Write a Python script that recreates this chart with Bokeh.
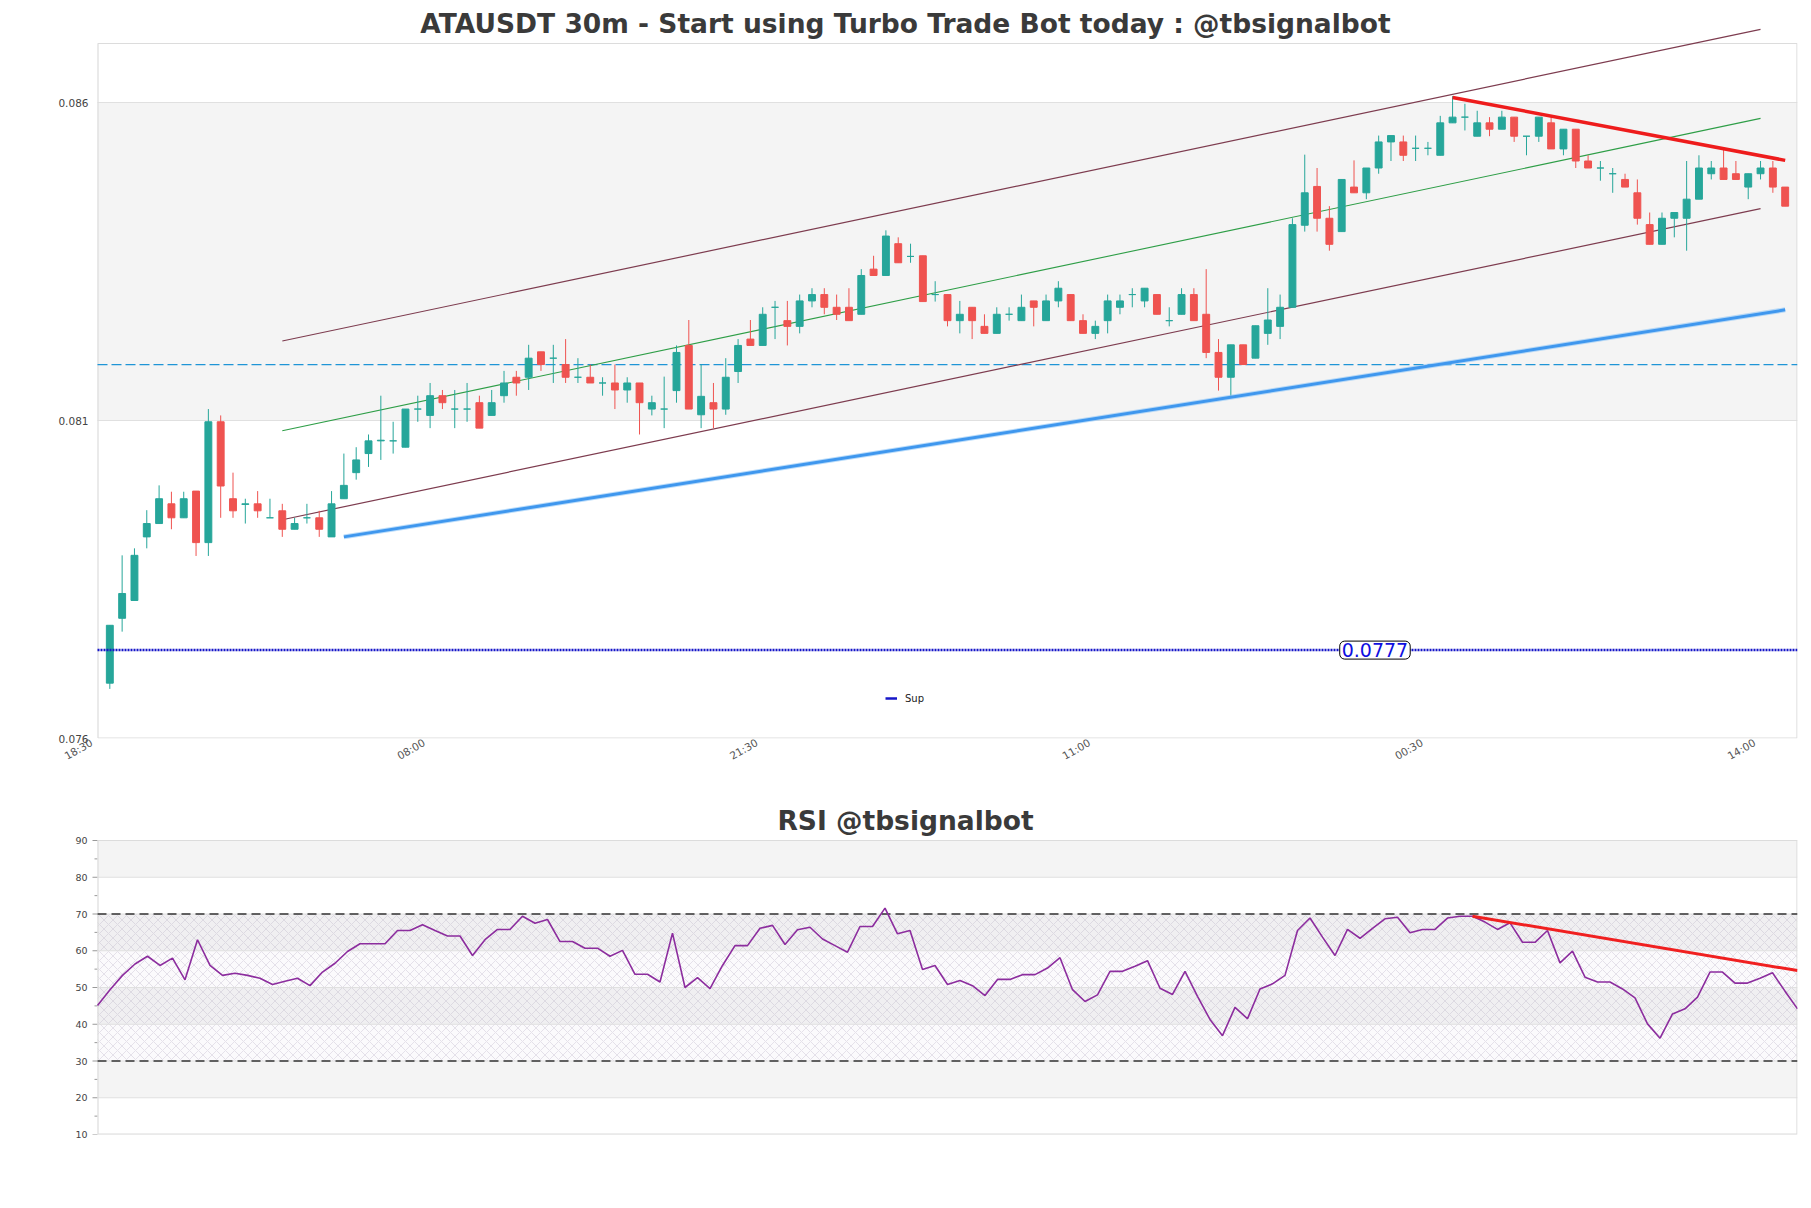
import math
from bokeh.plotting import figure
from bokeh.models import (Range1d, FixedTicker, Label, Legend, LegendItem, LinearAxis,
                          ColumnDataSource, NumeralTickFormatter)
from bokeh.layouts import column
from bokeh.embed import file_html
from bokeh.resources import INLINE

# ---------------- data ----------------
TITLE = "ATAUSDT 30m - Start using Turbo Trade Bot today : @tbsignalbot"
RSI_TITLE = "RSI @tbsignalbot"

X_TICK_POS = [0, 27, 54, 81, 108, 135]
X_TICK_LABELS = ["18:30", "08:00", "21:30", "11:00", "00:30", "14:00"]
Y_TICKS = [0.076, 0.081, 0.086]
RSI_TICKS = [10, 20, 30, 40, 50, 60, 70, 80, 90]
RSI_MINOR = [15, 25, 35, 45, 55, 65, 75, 85]

OPEN = [0.07687, 0.07789, 0.07817, 0.07917, 0.07938, 0.07969, 0.07947, 0.07989, 0.07908, 0.08098,
        0.07977, 0.07968, 0.07969, 0.07947, 0.07958, 0.07929, 0.07947, 0.07947, 0.07917, 0.07977,
        0.08018, 0.08048, 0.08068, 0.08068, 0.08058, 0.08118, 0.08108, 0.08139, 0.08118, 0.08118,
        0.08128, 0.08108, 0.08139, 0.08168, 0.08168, 0.08208, 0.08198, 0.08188, 0.08168, 0.08168,
        0.08159, 0.08159, 0.08148, 0.08159, 0.08118, 0.08118, 0.08147, 0.08218, 0.08109, 0.08128,
        0.08118, 0.08177, 0.08228, 0.08218, 0.08278, 0.08257, 0.08248, 0.08288, 0.08298, 0.08278,
        0.08278, 0.08267, 0.08338, 0.08328, 0.08378, 0.08358, 0.08359, 0.08298, 0.08298, 0.08257,
        0.08278, 0.08248, 0.08237, 0.08267, 0.08257, 0.08288, 0.08257, 0.08288, 0.08298, 0.08257,
        0.08237, 0.08257, 0.08278, 0.08298, 0.08288, 0.08298, 0.08257, 0.08267, 0.08298, 0.08267,
        0.08207, 0.08168, 0.08219, 0.08198, 0.08237, 0.08248, 0.08278, 0.08407, 0.08468, 0.08418,
        0.08397, 0.08467, 0.08458, 0.08497, 0.08538, 0.08538, 0.08528, 0.08528, 0.08517, 0.08568,
        0.08577, 0.08547, 0.08568, 0.08558, 0.08577, 0.08547, 0.08547, 0.08568, 0.08527, 0.08558,
        0.08508, 0.08497, 0.08488, 0.08479, 0.08458, 0.08408, 0.08377, 0.08418, 0.08418, 0.08448,
        0.08488, 0.08497, 0.08488, 0.08467, 0.08488, 0.08497, 0.08467]
HIGH = [0.07778, 0.07888, 0.07899, 0.07959, 0.07998, 0.07988, 0.07988, 0.07989, 0.08118, 0.08108,
        0.08018, 0.07977, 0.07989, 0.07977, 0.07969, 0.07947, 0.07969, 0.07958, 0.07989, 0.08048,
        0.08058, 0.08078, 0.08139, 0.08098, 0.08118, 0.08139, 0.08159, 0.08148, 0.08148, 0.08159,
        0.08139, 0.08148, 0.08178, 0.08178, 0.08219, 0.08208, 0.08219, 0.08228, 0.08198, 0.08188,
        0.08168, 0.08188, 0.08168, 0.08159, 0.08139, 0.08169, 0.08218, 0.08258, 0.08188, 0.08159,
        0.08198, 0.08228, 0.08258, 0.08278, 0.08288, 0.08288, 0.08298, 0.08308, 0.08308, 0.08298,
        0.08308, 0.08338, 0.08359, 0.08399, 0.08388, 0.08378, 0.08359, 0.08319, 0.08298, 0.08288,
        0.08278, 0.08267, 0.08278, 0.08278, 0.08298, 0.08288, 0.08298, 0.08319, 0.08298, 0.08267,
        0.08257, 0.08298, 0.08298, 0.08308, 0.08308, 0.08298, 0.08278, 0.08308, 0.08308, 0.08338,
        0.08228, 0.08219, 0.08219, 0.08249, 0.08308, 0.08298, 0.08418, 0.08518, 0.08497, 0.08437,
        0.08479, 0.08509, 0.08497, 0.08548, 0.08548, 0.08548, 0.08548, 0.08538, 0.08579, 0.08610,
        0.08598, 0.08587, 0.08577, 0.08587, 0.08577, 0.08547, 0.08577, 0.08577, 0.08558, 0.08558,
        0.08517, 0.08508, 0.08497, 0.08488, 0.08479, 0.08427, 0.08427, 0.08427, 0.08508, 0.08517,
        0.08508, 0.08527, 0.08508, 0.08488, 0.08508, 0.08508, 0.08467]
LOW = [0.07678, 0.07768, 0.07817, 0.07899, 0.07938, 0.07929, 0.07947, 0.07887, 0.07887, 0.07947,
       0.07947, 0.07938, 0.07947, 0.07947, 0.07917, 0.07929, 0.07938, 0.07917, 0.07917, 0.07977,
       0.08007, 0.08027, 0.08038, 0.08048, 0.08058, 0.08098, 0.08088, 0.08118, 0.08088, 0.08098,
       0.08088, 0.08108, 0.08128, 0.08139, 0.08148, 0.08178, 0.08159, 0.08159, 0.08159, 0.08159,
       0.08139, 0.08118, 0.08128, 0.08078, 0.08108, 0.08088, 0.08128, 0.08118, 0.08088, 0.08088,
       0.08109, 0.08159, 0.08218, 0.08218, 0.08228, 0.08218, 0.08237, 0.08278, 0.08267, 0.08258,
       0.08257, 0.08267, 0.08328, 0.08328, 0.08348, 0.08348, 0.08287, 0.08287, 0.08248, 0.08237,
       0.08228, 0.08237, 0.08237, 0.08257, 0.08257, 0.08248, 0.08257, 0.08278, 0.08257, 0.08237,
       0.08228, 0.08237, 0.08267, 0.08278, 0.08278, 0.08267, 0.08248, 0.08267, 0.08257, 0.08198,
       0.08147, 0.08138, 0.08188, 0.08198, 0.08219, 0.08228, 0.08278, 0.08397, 0.08397, 0.08367,
       0.08397, 0.08458, 0.08448, 0.08488, 0.08508, 0.08508, 0.08508, 0.08517, 0.08517, 0.08568,
       0.08556, 0.08547, 0.08547, 0.08558, 0.08538, 0.08517, 0.08538, 0.08527, 0.08517, 0.08497,
       0.08497, 0.08477, 0.08458, 0.08467, 0.08408, 0.08377, 0.08377, 0.08388, 0.08367, 0.08448,
       0.08479, 0.08479, 0.08479, 0.08448, 0.08479, 0.08458, 0.08437]
CLOSE = [0.07778, 0.07828, 0.07888, 0.07938, 0.07977, 0.07947, 0.07977, 0.07908, 0.08098, 0.07997,
         0.07958, 0.07969, 0.07958, 0.07947, 0.07929, 0.07938, 0.07947, 0.07929, 0.07969, 0.07998,
         0.08038, 0.08068, 0.08069, 0.08068, 0.08118, 0.08118, 0.08139, 0.08128, 0.08118, 0.08118,
         0.08088, 0.08128, 0.08159, 0.08159, 0.08198, 0.08188, 0.08198, 0.08168, 0.08168, 0.08159,
         0.08159, 0.08148, 0.08159, 0.08128, 0.08128, 0.08118, 0.08207, 0.08118, 0.08138, 0.08118,
         0.08168, 0.08218, 0.08218, 0.08267, 0.08278, 0.08248, 0.08288, 0.08298, 0.08278, 0.08267,
         0.08257, 0.08328, 0.08328, 0.08390, 0.08348, 0.08358, 0.08287, 0.08298, 0.08257, 0.08267,
         0.08257, 0.08237, 0.08267, 0.08267, 0.08278, 0.08278, 0.08288, 0.08308, 0.08257, 0.08237,
         0.08248, 0.08288, 0.08288, 0.08298, 0.08308, 0.08267, 0.08257, 0.08298, 0.08257, 0.08207,
         0.08168, 0.08219, 0.08188, 0.08249, 0.08258, 0.08278, 0.08408, 0.08458, 0.08418, 0.08377,
         0.08479, 0.08458, 0.08497, 0.08538, 0.08548, 0.08517, 0.08528, 0.08528, 0.08568, 0.08577,
         0.08577, 0.08568, 0.08558, 0.08577, 0.08547, 0.08547, 0.08577, 0.08527, 0.08558, 0.08508,
         0.08497, 0.08497, 0.08488, 0.08467, 0.08418, 0.08377, 0.08418, 0.08427, 0.08448, 0.08497,
         0.08497, 0.08479, 0.08479, 0.08488, 0.08497, 0.08467, 0.08437]

RSI = [45.1, 49.4, 53.3, 56.4, 58.5, 56.0, 58.0, 52.1, 63.0, 56.0,
       53.3, 53.9, 53.3, 52.5, 50.8, 51.7, 52.5, 50.5, 54.2, 56.6,
       59.8, 61.9, 61.9, 61.9, 65.5, 65.5, 67.1, 65.5, 64.0, 64.0,
       58.7, 63.0, 65.8, 65.8, 69.4, 67.5, 68.5, 62.5, 62.5, 60.7,
       60.7, 58.5, 60.1, 53.6, 53.6, 51.5, 64.8, 50.0, 52.7, 49.7,
       56.0, 61.4, 61.4, 66.1, 66.9, 61.7, 65.7, 66.4, 63.2, 61.4,
       59.6, 66.6, 66.6, 71.6, 64.6, 65.5, 54.9, 56.0, 50.8, 51.9,
       50.5, 47.8, 52.2, 52.2, 53.5, 53.5, 55.3, 58.1, 49.4, 46.2,
       48.0, 54.4, 54.4, 55.8, 57.3, 49.8, 48.1, 54.4, 47.6, 41.3,
       36.9, 44.6, 41.5, 49.6, 51.0, 53.3, 65.5, 68.9, 63.7, 58.7,
       65.8, 63.4, 66.1, 68.7, 69.1, 64.9, 65.8, 65.8, 68.9, 69.4,
       69.4, 67.8, 65.8, 67.6, 62.3, 62.3, 65.5, 56.7, 59.9, 52.8,
       51.5, 51.5, 49.6, 47.2, 40.1, 36.2, 42.8, 44.2, 47.4, 54.2,
       54.2, 51.2, 51.2, 52.5, 54.0, 49.0, 44.2]

CH_X = [15, 135]
CH_UPPER = [0.08225, 0.08715]
CH_MID = [0.08084, 0.08575]
CH_LOWER = [0.07944, 0.08433]
SUPPORT_X = [20, 137]
SUPPORT_Y = [0.07917, 0.08274]
RESIST_X = [110, 137]
RESIST_Y = [0.08608, 0.08509]
DASHED_LEVEL = 0.08188
SUP_LEVEL = 0.07739
SUP_TEXT = "0.0777"
RSI_RES_X = [110, 136]
RSI_RES_Y = [69.4, 54.6]
RSI_LEVELS = [30, 70]

# ---------------- layout constants ----------------
W = 1808
NUDGE = 6                          # px: frames start this far left of the visible border
FRAME_LEFT = 97 - NUDGE
X_END = 138
X_PX = 1700 / X_END                # px per candle step
XA = -NUDGE / X_PX
PX_PER_UNIT = 318 / 0.005          # main chart vertical scale (px per price unit)
FRAME_BOTTOM_PX = 738
Y_START = 0.076
Y_END = Y_START + FRAME_BOTTOM_PX / PX_PER_UNIT
FRAME_TOP_VISIBLE = Y_START + (FRAME_BOTTOM_PX - 43) / PX_PER_UNIT
TITLE_Y = Y_START + (FRAME_BOTTOM_PX - 23) / PX_PER_UNIT
TITLE_X = (905 - 97) / X_PX
EX = 0.5 / X_PX
EY = 0.5 / PX_PER_UNIT

GREEN, RED = "#26a69a", "#ef5350"
GRID = "#e0e0e0"
BORDER = "#dcdcdc"
BAND = "#f4f4f4"
FONT = "DejaVu Sans"

n = len(OPEN)
idx = list(range(1, n + 1))
colors = [GREEN if c >= o else RED for o, c in zip(OPEN, CLOSE)]
tops = [max(o, c) for o, c in zip(OPEN, CLOSE)]
bots = [min(o, c) for o, c in zip(OPEN, CLOSE)]
src = ColumnDataSource(dict(x=idx, h=HIGH, l=LOW, top=tops, bottom=bots, color=colors))

# ---------------- main chart ----------------
p = figure(width=W, height=798, output_backend="svg", toolbar_location=None,
           x_range=Range1d(XA, X_END), y_range=Range1d(Y_START, Y_END),
           min_border_left=FRAME_LEFT, min_border_right=11, min_border_top=0,
           min_border_bottom=60)
p.outline_line_color = None
p.xgrid.visible = False
p.ygrid.visible = False

for i in range(1, len(Y_TICKS) - 1, 2):
    p.quad(left=0, right=X_END, bottom=Y_TICKS[i], top=Y_TICKS[i + 1],
           fill_color=BAND, line_color=None, level="image")
p.segment(x0=[0] * (len(Y_TICKS) - 1), x1=[X_END] * (len(Y_TICKS) - 1), y0=Y_TICKS[1:], y1=Y_TICKS[1:],
          line_color=GRID, line_width=1, level="underlay")

p.yaxis.ticker = FixedTicker(ticks=Y_TICKS)
p.yaxis.formatter = NumeralTickFormatter(format="0.000")
p.yaxis.axis_line_color = None
p.yaxis.major_tick_line_color = None
p.yaxis.minor_tick_line_color = None
p.yaxis.major_tick_out = 0
p.yaxis.minor_tick_out = 0
p.yaxis.major_label_text_font = FONT
p.yaxis.major_label_text_font_size = "10.5px"
p.yaxis.major_label_text_color = "#444444"
p.yaxis.major_label_standoff = 9 - NUDGE

# time axis on a range whose origin sits at the frame edge (labels end just left of their tick)
p.xaxis.visible = False
p.extra_x_ranges = {"labels": Range1d(0, X_END - XA)}
xax = LinearAxis(x_range_name="labels", ticker=FixedTicker(ticks=X_TICK_POS))
xax.major_label_overrides = {pos: lab for pos, lab in zip(X_TICK_POS, X_TICK_LABELS)}
xax.axis_line_color = None
xax.major_tick_line_color = None
xax.minor_tick_line_color = None
xax.major_tick_out = 0
xax.minor_tick_out = 0
xax.major_label_orientation = math.pi / 6
xax.major_label_text_font = FONT
xax.major_label_text_font_size = "10.5px"
xax.major_label_text_color = "#555555"
xax.major_label_standoff = 3
p.add_layout(xax, "below")

# visible frame border
p.line([EX, EX, X_END - EX, X_END - EX, EX],
       [Y_START + EY, FRAME_TOP_VISIBLE, FRAME_TOP_VISIBLE, Y_START + EY, Y_START + EY],
       line_color=BORDER, line_width=1.2)

p.line([0, X_END], [DASHED_LEVEL, DASHED_LEVEL], line_color="#1f95d6", line_width=1.3, line_dash="10 4")

p.line(CH_X, CH_UPPER, line_color="#7d3c4f", line_width=1.2)
p.line(CH_X, CH_MID, line_color="#2e9e47", line_width=1.1)
p.line(CH_X, CH_LOWER, line_color="#7d3c4f", line_width=1.2)

p.segment(x0="x", y0="l", x1="x", y1="h", line_color="color", line_width=1, source=src)
p.vbar(x="x", width=0.56, top="top", bottom="bottom", fill_color="color", line_color="color",
       line_width=1, source=src)

p.line(SUPPORT_X, SUPPORT_Y, line_color="#8cc4f7", line_width=5, line_alpha=0.6)
p.line(SUPPORT_X, SUPPORT_Y, line_color="#3f97ee", line_width=3)
p.line(RESIST_X, RESIST_Y, line_color="#ee1c1c", line_width=3.5)

SUP_COLOR = "#1616c8"
p.line([0, X_END], [SUP_LEVEL, SUP_LEVEL], line_color=SUP_COLOR, line_width=2.5, line_dash="2 1")
sup_key = p.line(x=[float("nan")], y=[float("nan")], line_color=SUP_COLOR, line_width=2.5)
p.add_layout(Label(x=103.7, y=SUP_LEVEL, text=SUP_TEXT, text_font=FONT, text_font_size="19px",
                   text_color="#0f0fe0", text_align="center", text_baseline="middle",
                   background_fill_color="white", border_line_color="black", border_line_width=1,
                   padding=2, border_radius=5))

legend = Legend(items=[LegendItem(label="Sup", renderers=[sup_key])],
                location=(788 + NUDGE, 30),
                border_line_color=None, background_fill_alpha=0, padding=0, margin=0, spacing=0,
                glyph_width=12, glyph_height=20, label_standoff=8, label_height=20,
                label_text_font=FONT, label_text_font_size="10px", label_text_color="#222222")
p.add_layout(legend)

p.add_layout(Label(x=TITLE_X, y=TITLE_Y, text=TITLE, text_font=FONT, text_font_size="26.5px",
                   text_font_style="bold", text_color="#3a3a3a", text_align="center",
                   text_baseline="alphabetic"))

# ---------------- RSI chart ----------------
RX_END = len(RSI) - 1
RX_PX = 1700 / RX_END
RXA = -NUDGE / RX_PX
R_PX = 294 / 80
R_TOP = RSI_TICKS[-1] + 42 / R_PX
r = figure(width=W, height=410, output_backend="svg", toolbar_location=None,
           x_range=Range1d(RXA, RX_END), y_range=Range1d(RSI_TICKS[0], R_TOP),
           min_border_left=FRAME_LEFT, min_border_right=11, min_border_top=0, min_border_bottom=74)
r.outline_line_color = None
r.xaxis.visible = False
r.xgrid.visible = False
r.ygrid.visible = False

for i in range(1, len(RSI_TICKS) - 1, 2):
    r.quad(left=0, right=RX_END, bottom=RSI_TICKS[i], top=RSI_TICKS[i + 1],
           fill_color=BAND, line_color=None, level="image")
r.quad(left=0, right=RX_END, bottom=RSI_LEVELS[0], top=RSI_LEVELS[1],
       fill_color="#9c7bb5", fill_alpha=0.04, line_color=None,
       hatch_pattern="x", hatch_color="#b0a4bc", hatch_alpha=0.5, hatch_scale=9, hatch_weight=0.6,
       level="image")
k = len(RSI_TICKS)
r.segment(x0=[0] * k, x1=[RX_END] * k, y0=RSI_TICKS, y1=RSI_TICKS,
          line_color=GRID, line_width=1, level="underlay")

# tick marks just outside the visible border
r.segment(x0=[-5 / RX_PX] * k, x1=[0] * k, y0=RSI_TICKS, y1=RSI_TICKS, line_color="#999999", line_width=1)
m = len(RSI_MINOR)
r.segment(x0=[-3 / RX_PX] * m, x1=[0] * m, y0=RSI_MINOR, y1=RSI_MINOR, line_color="#999999", line_width=1)

rex = 0.5 / RX_PX
rey = 0.5 / R_PX
r.line([rex, rex, RX_END - rex, RX_END - rex, rex],
       [RSI_TICKS[0] + rey, RSI_TICKS[-1], RSI_TICKS[-1], RSI_TICKS[0] + rey, RSI_TICKS[0] + rey],
       line_color=BORDER, line_width=1.2)

r.yaxis.ticker = FixedTicker(ticks=RSI_TICKS)
r.yaxis.axis_line_color = None
r.yaxis.major_tick_line_color = None
r.yaxis.minor_tick_line_color = None
r.yaxis.major_tick_out = 0
r.yaxis.minor_tick_out = 0
r.yaxis.major_label_text_font = FONT
r.yaxis.major_label_text_font_size = "9.5px"
r.yaxis.major_label_text_color = "#444444"
r.yaxis.major_label_standoff = 10 - NUDGE

for lv in RSI_LEVELS:
    r.line([0, RX_END], [lv, lv], line_color="#333333", line_width=1.3, line_dash="9 5")

r.line(list(range(len(RSI))), RSI, line_color="#8c2d9e", line_width=1.6)
r.line(RSI_RES_X, RSI_RES_Y, line_color="#f02020", line_width=3)

r.add_layout(Label(x=(905 - 97) / RX_PX, y=RSI_TICKS[-1] + (840 - 820) / R_PX,
                   text=RSI_TITLE, text_font=FONT, text_font_size="26.5px",
                   text_font_style="bold", text_color="#3a3a3a", text_align="center",
                   text_baseline="alphabetic"))

layout = column(p, r)
open("out.html", "w").write(file_html(layout, INLINE))
